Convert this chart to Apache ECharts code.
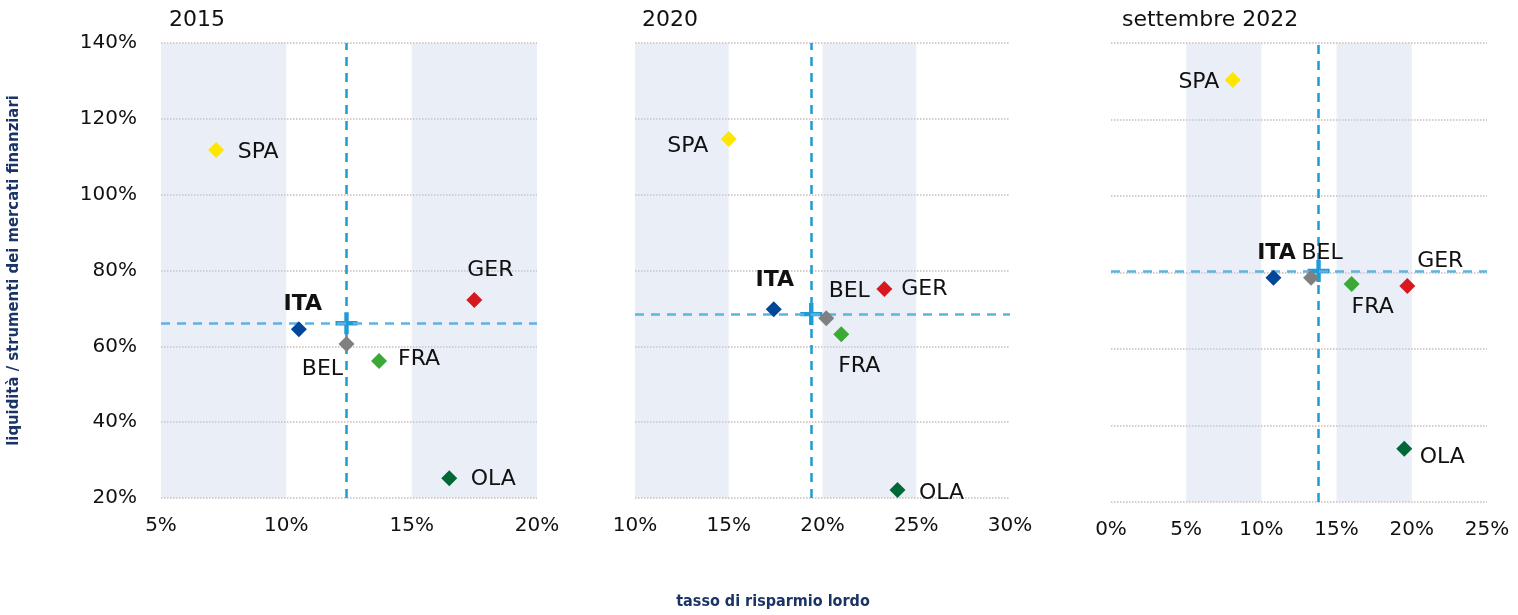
<!DOCTYPE html>
<html lang="it">
<head>
    <meta charset="UTF-8">
    <title>Liquidità e risparmio</title>
    <style>html,body{margin:0;padding:0;background:#fff;}</style>
</head>
<body>
<div id="main" style="width:1518px;height:615px;"></div>
<script src="https://cdn.jsdelivr.net/npm/echarts@6/dist/echarts.min.js"></script>
<script type="text/javascript">
    // dati
    var paesi = ['SPA', 'ITA', 'BEL', 'FRA', 'GER', 'OLA'];
    var titoli = ['2015', '2020', 'settembre 2022'];

    var risparmio2015 = [7.2, 10.5, 12.4, 13.7, 17.5, 16.5];
    var liquidita2015 = [111.8, 64.5, 60.6, 56.1, 72.2, 25.2];
    var media2015 = [12.4, 66.1];

    var risparmio2020 = [15.0, 17.4, 20.2, 21.0, 23.3, 24.0];
    var liquidita2020 = [114.7, 69.8, 67.4, 63.2, 75.1, 22.1];
    var media2020 = [19.4, 68.5];

    var risparmio2022 = [8.1, 10.8, 13.3, 16.0, 19.7, 19.5];
    var liquidita2022 = [130.3, 78.6, 78.6, 77.0, 76.5, 33.9];
    var media2022 = [13.8, 80.4];

    // assi x: [min, max]
    var asseX = [[5, 20], [10, 30], [0, 25]];
    var asseY = [20, 140];
    // fasce ombreggiate
    var fasce = [[[5, 10], [15, 20]], [[10, 15], [20, 25]], [[5, 10], [15, 20]]];

    // colori e posizione delle etichette
    var colori = ['#ffe600', '#00479a', '#808080', '#3aa935', '#d7191f', '#006837'];
    var spostamenti = [
        [[42, 2], [4, -25], [-24, 25], [40, -2], [16, -30], [44, 1]],
        [[-41, 7], [1, -29], [23, -27], [18, 32], [40, 0], [44, 3]],
        [[-34, 2], [3, -25], [11, -25], [21, 23], [33, -25], [38, 8]]
    ];
    var griglie = [
        {left: 161, top: 43, width: 376, height: 455},
        {left: 635, top: 43, width: 375, height: 455},
        {left: 1111, top: 43, width: 376, height: 459}
    ];
    var titoloLeft = [164, 637, 1117];

    var pannelli = [
        {x: risparmio2015, y: liquidita2015, media: media2015},
        {x: risparmio2020, y: liquidita2020, media: media2020},
        {x: risparmio2022, y: liquidita2022, media: media2022}
    ];

    var font = 'DejaVu Sans';
    var piu = 'path://M4,0H6V4H10V6H6V10H4V6H0V4H4Z';

    var myChart = echarts.init(document.getElementById('main'));

    var option = {
        animation: false,
        backgroundColor: '#fff',
        title: [],
        grid: [],
        xAxis: [],
        yAxis: [],
        series: [],
        graphic: [{
            type: 'text',
            x: 773, y: 602,
            style: {
                text: 'tasso di risparmio lordo',
                align: 'center', verticalAlign: 'middle',
                font: 'bold 16px "DejaVu Sans Condensed"',
                fill: '#1b3467'
            }
        }]
    };

    for (var i = 0; i < 3; i++) {
        var p = pannelli[i];
        option.title.push({
            text: titoli[i], left: titoloLeft[i], top: 4,
            textStyle: {fontFamily: font, fontSize: 22, fontWeight: 'normal', color: '#111'}
        });
        option.grid.push(griglie[i]);
        option.xAxis.push({
            type: 'value', gridIndex: i,
            min: asseX[i][0], max: asseX[i][1], interval: 5,
            axisLine: {show: false}, axisTick: {show: false}, splitLine: {show: false},
            axisLabel: {formatter: '{value}%', fontFamily: font, fontSize: 20, color: '#111', margin: 18}
        });
        option.yAxis.push({
            type: 'value', gridIndex: i,
            min: asseY[0], max: asseY[1], interval: 20,
            axisLine: {show: false}, axisTick: {show: false},
            axisLabel: {show: i === 0, formatter: '{value}%', fontFamily: font, fontSize: 20, color: '#111', margin: 24},
            splitLine: {lineStyle: {type: 'dotted', color: '#c9bcb9', width: 1.5}},
            name: i === 0 ? 'liquidità / strumenti dei mercati finanziari' : '',
            nameLocation: 'middle', nameRotate: 90, nameGap: 139,
            nameTextStyle: {fontFamily: 'DejaVu Sans Condensed', fontWeight: 'bold', fontSize: 16.5, color: '#1b3467'}
        });

        var punti = [];
        for (var j = 0; j < paesi.length; j++) {
            punti.push({
                name: paesi[j],
                value: [p.x[j], p.y[j]],
                itemStyle: {color: colori[j], opacity: 1},
                label: {offset: spostamenti[i][j], fontWeight: paesi[j] === 'ITA' ? 'bold' : 'normal'}
            });
        }

        // fasce, linee medie e croce
        option.series.push({
            type: 'scatter', xAxisIndex: i, yAxisIndex: i,
            symbol: piu, symbolSize: 22, z: 3, silent: true,
            itemStyle: {color: '#1f9bd8', opacity: 1},
            data: [p.media],
            markArea: {
                silent: true,
                itemStyle: {color: 'rgba(200,214,234,0.38)'},
                data: fasce[i].map(function (f) { return [{xAxis: f[0]}, {xAxis: f[1]}]; })
            },
            markLine: {
                silent: true, symbol: 'none', label: {show: false},
                lineStyle: {type: [9, 7], width: 2.5},
                data: [
                    {xAxis: p.media[0], lineStyle: {color: '#1f9bd8'}},
                    {yAxis: p.media[1], lineStyle: {color: '#5fb3e2'}}
                ]
            }
        });
        option.series.push({
            type: 'scatter', xAxisIndex: i, yAxisIndex: i,
            symbol: 'diamond', symbolSize: 16, z: 5,
            itemStyle: {opacity: 1},
            label: {
                show: true, position: 'inside', formatter: '{b}',
                fontFamily: font, fontSize: 22, color: '#111', opacity: 1
            },
            data: punti
        });
    }

    myChart.setOption(option);
</script>
</body>
</html>
